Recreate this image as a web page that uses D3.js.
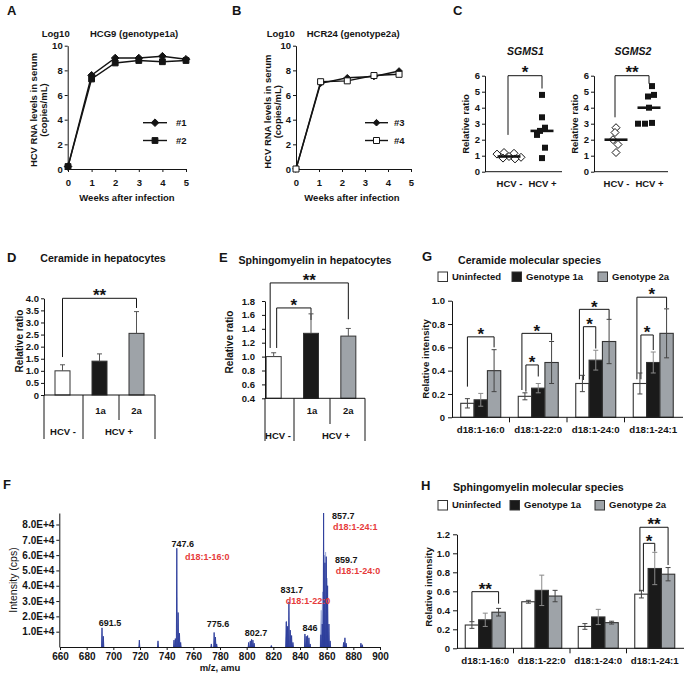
<!DOCTYPE html>
<html><head><meta charset="utf-8">
<script src="https://cdn.jsdelivr.net/npm/d3@7"></script>
<style>
body{margin:0;background:#fff;}
svg{display:block;}
</style></head><body>
<svg id="fig" width="685" height="675"></svg>
<script>
// ================= DATA =================
// A / B : HCV RNA time courses (log10 copies/mL)
const weekTicks = [0, 1, 2, 3, 4, 5];
const logTicks = [0, 2, 4, 6, 8, 10];
const weeksA = [0, 1, 2, 3, 4, 5];
const hcg9_1 = [0.2, 7.6, 9.0, 9.0, 9.15, 8.9];
const hcg9_2 = [0.2, 7.3, 8.6, 8.8, 8.7, 8.8];
const weeksB = [0, 1.07, 2.23, 3.39, 4.48];
const hcr24_3 = [0, 6.95, 7.4, 7.5, 7.95];
const hcr24_4 = [0, 7.08, 7.15, 7.58, 7.68];

// C : SGMS1 / SGMS2 relative ratio
const scatterCats = ["HCV -", "HCV +"];
const ratioTicks = [0, 1, 2, 3, 4, 5, 6];
const sgms1Neg = [1.2, 1.15, 1.1, 0.95, 0.9, 0.85, 0.8];
const sgms1Pos = [4.8, 3.4, 2.75, 2.55, 2.3, 1.5, 0.85];
const sgms2Neg = [2.75, 2.45, 2.0, 1.7, 1.2];
const sgms2Pos = [5.35, 4.8, 4.7, 4.0, 3.05, 3.0, 3.0];

// D / E : hepatocytes
const hepCats = ["HCV -", "1a", "2a"];
const ceramideHep = [1.0, 1.4, 2.55];
const ceramideHepErr = [0.25, 0.3, 0.9];
const cerHepTicks = [0, 0.5, 1, 1.5, 2, 2.5, 3, 3.5, 4];
const smHep = [1.0, 1.335, 1.295];
const smHepErr = [0.055, 0.28, 0.11];
const smHepTicks = [0.4, 0.6, 0.8, 1.0, 1.2, 1.4, 1.6, 1.8];

// G / H : molecular species
const species = ["d18:1-16:0", "d18:1-22:0", "d18:1-24:0", "d18:1-24:1"];
const groupNames = ["Uninfected", "Genotype 1a", "Genotype 2a"];
const cerUninf = [0.12, 0.18, 0.29, 0.29];
const cerG1a   = [0.15, 0.25, 0.49, 0.47];
const cerG2a   = [0.40, 0.47, 0.65, 0.72];
const cerUninfErr = [0.04, 0.03, 0.07, 0.09];
const cerG1aErr   = [0.055, 0.04, 0.085, 0.09];
const cerG2aErr   = [0.18, 0.18, 0.19, 0.21];
const cerSpTicks = [0, 0.2, 0.4, 0.6, 0.8, 1.0];
const smUninf = [0.245, 0.49, 0.23, 0.57];
const smG1a   = [0.30, 0.61, 0.33, 0.84];
const smG2a   = [0.38, 0.55, 0.27, 0.78];
const smUninfErr = [0.035, 0.015, 0.03, 0.04];
const smG1aErr   = [0.07, 0.16, 0.08, 0.17];
const smG2aErr   = [0.04, 0.06, 0.015, 0.07];
const smSpTicks = [0, 0.2, 0.4, 0.6, 0.8, 1.0, 1.2];

// F : mass spectrum
const mzTicks = [660, 680, 700, 720, 740, 760, 780, 800, 820, 840, 860, 880, 900];
const intTicks = [10000, 20000, 30000, 40000, 50000, 60000, 70000, 80000];
const peakMz  = [691.5, 692.5, 719.5, 733.5, 745.5, 746.5, 747.6, 748.6, 749.6, 750.5,
                 773.5, 775.6, 776.6, 777.5, 801.5, 802.7, 803.7, 804.7, 805.6, 818.5,
                 829.7, 830.7, 831.7, 832.7, 833.7, 834.7, 843.7, 844.7, 845.7, 846.7, 847.6,
                 855.7, 856.7, 857.7, 858.7, 859.7, 860.7, 861.7, 862.6, 872.7, 873.7, 874.6, 885.7, 886.7];
const peakInt = [12500, 7000, 4500, 4000, 4500, 5500, 64500, 22500, 9000, 3000,
                 2000, 9500, 6500, 2000, 3000, 4000, 5000, 4500, 2500, 1000,
                 16500, 13500, 29500, 11000, 7500, 3000, 8500, 7000, 7500, 6000, 2000,
                 8000, 15000, 87500, 55000, 59000, 40000, 15000, 4000, 3000, 6000, 2500, 2500, 1500];
const shoulderMz  = [829.9, 855.9, 856.9, 858.2, 859.2, 860.3];
const shoulderInt = [17000, 24000, 36000, 60000, 62000, 45000];

// ================= DRAWING =================
const svg = d3.select("#fig");
const FF = '"Liberation Sans", Arial, Helvetica, sans-serif';
const INK = "#141414";
const GRAY = "#9ea3a8";
const BLACKBAR = "#1a1a1a";
const BARSTROKE = "#333";
const STAR = 17;

function label(x, y, s, o = {}) {
  const t = svg.append("text")
    .attr("x", x).attr("y", y)
    .attr("font-family", FF)
    .attr("font-size", o.size || 9.5)
    .attr("font-weight", o.weight || "bold")
    .attr("font-style", o.style || "normal")
    .attr("text-anchor", o.anchor || "start")
    .attr("fill", o.fill || INK)
    .text(s);
  if (o.rot) t.attr("transform", `rotate(-90,${x},${y})`);
  return t;
}
function styleAxis(g, size) {
  g.attr("font-family", FF).attr("font-size", size || 9.5).attr("font-weight", "bold");
  g.selectAll("text").attr("fill", INK);
  g.selectAll("path,line").attr("stroke", INK).attr("stroke-width", 1);
  return g;
}
function seg(x1, y1, x2, y2, o = {}) {
  svg.append("line").attr("x1", x1).attr("y1", y1).attr("x2", x2).attr("y2", y2)
    .attr("stroke", o.stroke || INK).attr("stroke-width", o.w || 1);
}
function stars(x, cy, s, size = STAR) {
  label(x, cy + 0.57 * size, s, { size: size, anchor: "middle" });
}
function bracket(xl, yl, xr, yr, ytop, txt, starGap = 6.5) {
  svg.append("path").attr("d", `M${xl},${yl}V${ytop}H${xr}V${yr}`)
    .attr("fill", "none").attr("stroke", INK).attr("stroke-width", 1);
  stars((xl + xr) / 2, ytop - starGap, txt);
}
const diamond = r => `M0,${-r}L${r},0L0,${r}L${-r},0Z`;
const square = r => `M${-r},${-r}H${r}V${r}H${-r}Z`;
const intFmt = d3.format("d");

// ---------- panel letters ----------
[["A", 7, 14.5], ["B", 232, 14.5], ["C", 453, 14.5], ["D", 7, 262], ["E", 219, 262],
 ["G", 422, 261], ["F", 3, 489], ["H", 421, 490]]
  .forEach(([s, x, y]) => label(x, y, s, { size: 13 }));

// ---------- A / B ----------
function timePanel(c) {
  const x = d3.scaleLinear().domain([0, 5]).range([c.x0, c.x5]);
  const y = d3.scaleLinear().domain([0, 10]).range([169, 45.7]);
  styleAxis(svg.append("g").attr("transform", `translate(${c.ax},0)`)
    .call(d3.axisLeft(y).tickValues(logTicks).tickFormat(intFmt).tickSize(3).tickSizeOuter(0).tickPadding(2)));
  styleAxis(svg.append("g").attr("transform", `translate(0,${y(0)})`)
    .call(d3.axisBottom(x).tickValues(weekTicks).tickFormat(intFmt).tickSize(3).tickSizeOuter(0).tickPadding(7)));
  c.series.forEach(s => {
    const line = d3.line().x((d, i) => x(s.x[i])).y(d => y(d));
    svg.append("path").attr("d", line(s.v)).attr("fill", "none")
      .attr("stroke", INK).attr("stroke-width", 1.4);
  });
  c.series.forEach(s => {
    s.v.forEach((d, i) => svg.append("path")
      .attr("transform", `translate(${x(s.x[i])},${y(d)})`)
      .attr("d", s.shape).attr("fill", s.fill).attr("stroke", INK).attr("stroke-width", 1));
  });
  c.series.forEach((s, k) => {
    const ly = c.legY[k];
    seg(c.legX[0], ly, c.legX[1], ly, { w: 1.4 });
    svg.append("path").attr("transform", `translate(${(c.legX[0] + c.legX[1]) / 2},${ly})`)
      .attr("d", s.shape).attr("fill", s.fill).attr("stroke", INK).attr("stroke-width", 1);
    label(c.legTx, ly + 3.4, s.name);
  });
  label(c.logX, 36.7, "Log10");
  label(c.titleX, 36.7, c.title);
  label(c.yt[0], c.ytY, "HCV RNA levels in serum", { rot: true, anchor: "middle" });
  label(c.yt[1], c.ytY, "(copies/mL)", { rot: true, anchor: "middle" });
  label(c.xtX, 200.5, "Weeks after infection", { anchor: "middle" });
}
timePanel({
  x0: 68, x5: 186, ax: 67.7, legX: [143, 167], legY: [122.7, 140.5], legTx: 176,
  logX: 41.7, titleX: 90, title: "HCG9 (genotype1a)", yt: [36.6, 46.6], ytY: 110, xtX: 127,
  series: [
    { name: "#1", x: weeksA, v: hcg9_1, shape: diamond(3.8), fill: INK },
    { name: "#2", x: weeksA, v: hcg9_2, shape: square(2.9), fill: INK }
  ]
});
timePanel({
  x0: 296, x5: 411, ax: 296, legX: [365, 388], legY: [122.7, 140.5], legTx: 394,
  logX: 266.7, titleX: 306.7, title: "HCR24 (genotype2a)", yt: [271.5, 281.5], ytY: 111.7, xtX: 352,
  series: [
    { name: "#3", x: weeksB, v: hcr24_3, shape: diamond(3.3), fill: INK },
    { name: "#4", x: weeksB, v: hcr24_4, shape: square(3), fill: "#fff" }
  ]
});

// ---------- C ----------
function scatterPanel(c) {
  const y = d3.scaleLinear().domain([0, 6]).range([171.7, 75.7]);
  const x = d3.scalePoint().domain(scatterCats).range(c.cx);
  styleAxis(svg.append("g").attr("transform", `translate(${c.ax},0)`)
    .call(d3.axisLeft(y).tickValues(ratioTicks).tickFormat(intFmt).tickSize(3).tickSizeOuter(0).tickPadding(2)));
  const xa = styleAxis(svg.append("g").attr("transform", `translate(0,${y(0)})`)
    .call(d3.axisBottom(x).tickSize(0).tickPadding(9)));
  xa.select(".domain").attr("d", `M${c.ax},0H${c.axEnd}`);
  const b = c.br;
  bracket(x(scatterCats[0]) - 1, y(b.l), x(scatterCats[1]), y(b.r), y(b.top), b.txt, 7.5);
  c.neg.forEach((v, i) => svg.append("path")
    .attr("transform", `translate(${x(scatterCats[0]) + c.jNeg[i]},${y(v)})`)
    .attr("d", diamond(4)).attr("fill", "#fff").attr("stroke", INK).attr("stroke-width", 1));
  c.pos.forEach((v, i) => svg.append("path")
    .attr("transform", `translate(${x(scatterCats[1]) + c.jPos[i]},${y(v)})`)
    .attr("d", square(3)).attr("fill", INK));
  [[scatterCats[0], c.neg], [scatterCats[1], c.pos]].forEach(([cat, vals]) => {
    const m = d3.median(vals);
    seg(x(cat) - 11.5, y(m), x(cat) + 11.5, y(m), { w: 2.6 });
  });
  label((c.ax + c.axEnd) / 2 + 2, 55, c.title, { size: 10.5, style: "italic", anchor: "middle" });
  label(c.ytX, 124, "Relative ratio", { rot: true, anchor: "middle", size: 9.5 });
}
scatterPanel({
  ax: 485, axEnd: 562, cx: [509, 542], title: "SGMS1", ytX: 468.5,
  neg: sgms1Neg, pos: sgms1Pos,
  jNeg: [-5, 5, -12, 0, 12, -6, 6], jPos: [0, 0, 3, -2, -5, 3, 0],
  br: { l: 2.3, r: 5.2, top: 6.0, txt: "*" }
});
scatterPanel({
  ax: 594, axEnd: 668, cx: [616, 649], title: "SGMS2", ytX: 578,
  neg: sgms2Neg, pos: sgms2Pos,
  jNeg: [0, -1, -3, 2, 0], jPos: [3, 5, -1, 0, 3, -4, -11],
  br: { l: 3.4, r: 5.5, top: 6.0, txt: "**" }
});

// ---------- D / E ----------
function hepPanel(c) {
  const y = d3.scaleLinear().domain(c.domain).range([c.base, c.top]);
  const x = d3.scaleBand().domain(hepCats).range(c.band);
  const fills = ["#fff", BLACKBAR, GRAY];
  const bw = 15;
  const cx = k => x(k) + x.bandwidth() / 2;
  c.brackets.forEach(b => {
    const xl = cx(hepCats[0]) + b.dl, xr = cx(hepCats[b.to]);
    bracket(xl, y(b.l), xr, y(b.r), y(b.top), b.txt);
  });
  hepCats.forEach((k, i) => {
    svg.append("rect").attr("x", cx(k) - bw / 2).attr("y", y(c.vals[i]))
      .attr("width", bw).attr("height", y(c.domain[0]) - y(c.vals[i]))
      .attr("fill", fills[i]).attr("stroke", BARSTROKE).attr("stroke-width", 1);
    const et = y(c.vals[i] + c.errs[i]);
    seg(cx(k), y(c.vals[i]), cx(k), et, { stroke: "#555" });
    seg(cx(k) - 2.5, et, cx(k) + 2.5, et, { stroke: "#555" });
  });
  styleAxis(svg.append("g").attr("transform", `translate(${c.ax},0)`)
    .call(d3.axisLeft(y).tickValues(c.ticks).tickFormat(d => d === 0 ? "0" : d.toFixed(1))
      .tickSize(3).tickSizeOuter(0).tickPadding(c.pad)));
  seg(c.ax, c.base, c.table.right, c.base);
  c.table.full.forEach(xx => seg(xx, c.base, xx, c.table.bottom));
  seg(c.table.mid, c.base, c.table.mid, c.table.midBottom);
  label(cx("1a") + 1, c.labY1, "1a", { anchor: "middle" });
  label(cx("2a"), c.labY1, "2a", { anchor: "middle" });
  label(c.negX, c.labY2, "HCV -", { anchor: "middle" });
  label(c.posX, c.labY2, "HCV +", { anchor: "middle" });
  label(c.titleX, c.titleY, c.title, { size: 10.6, anchor: "middle" });
  label(c.ytX, c.ytY, "Relative ratio", { rot: true, anchor: "middle", size: 10 });
}
hepPanel({
  domain: [0, 4], base: 395, top: 298.3, band: [44, 155], ax: 44, pad: 2,
  ticks: cerHepTicks, vals: ceramideHep, errs: ceramideHepErr,
  table: { right: 155, full: [44, 83, 155], mid: 119, bottom: 439, midBottom: 420 },
  labY1: 413.5, labY2: 434.5, negX: 63, posX: 119,
  title: "Ceramide in hepatocytes", titleX: 103, titleY: 262, ytX: 22.5, ytY: 341,
  brackets: [{ to: 2, dl: 0, l: 1.57, r: 3.6, top: 4.0, txt: "**" }]
});
hepPanel({
  domain: [0.4, 1.8], base: 398.3, top: 301, band: [255, 367], ax: 265, pad: 7,
  ticks: smHepTicks, vals: smHep, errs: smHepErr,
  table: { right: 365, full: [265, 294, 365], mid: 330, bottom: 441, midBottom: 424 },
  labY1: 414, labY2: 438.5, negX: 278, posX: 336,
  title: "Sphingomyelin in hepatocytes", titleX: 315, titleY: 263.5, ytX: 232.5, ytY: 342,
  brackets: [
    { to: 1, dl: 3, l: 1.124, r: 1.527, top: 1.70, txt: "*" },
    { to: 2, dl: -3.5, l: 1.124, r: 1.537, top: 2.06, txt: "**" }
  ]
});

// ---------- G / H ----------
function speciesPanel(c) {
  const y = d3.scaleLinear().domain([0, c.max]).range([c.base, c.topY]);
  const x0 = d3.scaleBand().domain(species).range(c.xr);
  const x1 = d3.scaleBand().domain(groupNames).range([0, 40]);
  const off = (x0.bandwidth() - 40) / 2;
  const fills = ["#fff", BLACKBAR, GRAY];
  const barCx = (si, gi) => x0(species[si]) + off + x1(groupNames[gi]) + x1.bandwidth() / 2;
  c.brackets.forEach(b => {
    bracket(barCx(b.s, 0) + b.dl, y(b.l), barCx(b.s, b.to), y(b.r), y(b.top), b.txt);
  });
  c.series.forEach((vals, gi) => {
    vals.forEach((v, si) => {
      const xx = x0(species[si]) + off + x1(groupNames[gi]);
      svg.append("rect").attr("x", xx).attr("y", y(v))
        .attr("width", x1.bandwidth()).attr("height", y(0) - y(v))
        .attr("fill", fills[gi]).attr("stroke", BARSTROKE).attr("stroke-width", 1.1);
      const e = c.errs[gi][si], cxp = xx + x1.bandwidth() / 2;
      const col = gi === 1 ? "#8a8a8a" : "#444";
      seg(cxp, y(v - e), cxp, y(v + e), { stroke: col });
      seg(cxp - 2.5, y(v + e), cxp + 2.5, y(v + e), { stroke: col });
      seg(cxp - 2.5, y(v - e), cxp + 2.5, y(v - e), { stroke: col });
    });
  });
  styleAxis(svg.append("g").attr("transform", `translate(${c.xr[0]},0)`)
    .call(d3.axisLeft(y).tickValues(c.ticks).tickFormat(d => d === 0 ? "0" : d.toFixed(1))
      .tickSize(4).tickSizeOuter(0).tickPadding(3)));
  const xa = styleAxis(svg.append("g").attr("transform", `translate(0,${y(0)})`)
    .call(d3.axisBottom(x0).tickSize(0).tickPadding(c.xpad)), 9.7);
  xa.select(".domain").attr("d", `M${c.xr[0]},0H${c.xr[1] + 1}`);
  species.slice(1).forEach(s => seg(x0(s), y(0), x0(s), y(0) + 5));
  groupNames.forEach((g, i) => {
    svg.append("rect").attr("x", c.legBox[i]).attr("y", c.legY - 4.5).attr("width", 9.5).attr("height", 9.5)
      .attr("fill", fills[i]).attr("stroke", BARSTROKE).attr("stroke-width", 1);
    label(c.legBox[i] + 14, c.legY + 3.4, g);
  });
  label(c.titleX, c.titleY, c.title, { size: 10.6 });
  label(c.ytX, c.ytY, "Relative intensity", { rot: true, anchor: "middle", size: 9.7 });
}
speciesPanel({
  max: 1.0, base: 417.3, topY: 300.7, xr: [452, 682], xpad: 8.5, ticks: cerSpTicks,
  series: [cerUninf, cerG1a, cerG2a], errs: [cerUninfErr, cerG1aErr, cerG2aErr],
  legBox: [438, 512, 598], legY: 276.5, title: "Ceramide molecular species", titleX: 458, titleY: 264,
  ytX: 428.5, ytY: 359,
  brackets: [
    { s: 0, to: 2, dl: 0, l: 0.263, r: 0.60, top: 0.69, txt: "*" },
    { s: 1, to: 1, dl: 1, l: 0.22, r: 0.35, top: 0.449, txt: "*" },
    { s: 1, to: 2, dl: -3, l: 0.234, r: 0.657, top: 0.72, txt: "*" },
    { s: 2, to: 1, dl: 1, l: 0.32, r: 0.59, top: 0.777, txt: "*" },
    { s: 2, to: 2, dl: -3, l: 0.326, r: 0.84, top: 0.926, txt: "*" },
    { s: 3, to: 1, dl: 1, l: 0.326, r: 0.577, top: 0.706, txt: "*" },
    { s: 3, to: 2, dl: -3, l: 0.326, r: 0.934, top: 1.03, txt: "*" }
  ]
});
speciesPanel({
  max: 1.2, base: 648.3, topY: 534.3, xr: [457, 683], xpad: 8.5, ticks: smSpTicks,
  series: [smUninf, smG1a, smG2a], errs: [smUninfErr, smG1aErr, smG2aErr],
  legBox: [438, 510, 595], legY: 505, title: "Sphingomyelin molecular species", titleX: 453, titleY: 490.5,
  ytX: 431.5, ytY: 587,
  brackets: [
    { s: 0, to: 2, dl: 0, l: 0.28, r: 0.47, top: 0.596, txt: "**" },
    { s: 3, to: 1, dl: 2, l: 0.596, r: 1.018, top: 1.105, txt: "*" },
    { s: 3, to: 2, dl: -1.5, l: 0.596, r: 0.877, top: 1.274, txt: "**" }
  ]
});

// ---------- F ----------
(function spectrum() {
  const x = d3.scaleLinear().domain([660, 900]).range([60, 380]);
  const y = d3.scaleLinear().domain([0, 87500]).range([647, 513]);
  shoulderMz.forEach((m, i) => {
    svg.append("path")
      .attr("d", `M${x(m - 0.8)},${y(0)}L${x(m)},${y(shoulderInt[i])}L${x(m + 0.8)},${y(0)}Z`)
      .attr("fill", "#8f9dd3").attr("stroke", "#8f9dd3").attr("stroke-width", 0.6);
  });
  peakMz.forEach((m, i) => {
    svg.append("path")
      .attr("d", `M${x(m - 0.35)},${y(0)}L${x(m)},${y(peakInt[i])}L${x(m + 0.35)},${y(0)}Z`)
      .attr("fill", "#2b3c9b").attr("stroke", "#2b3c9b").attr("stroke-width", 0.9);
  });
  styleAxis(svg.append("g").attr("transform", `translate(59.3,0)`)
    .call(d3.axisLeft(y).tickValues(intTicks).tickFormat(d => (d / 10000).toFixed(1) + "E+4")
      .tickSize(3).tickSizeOuter(0).tickPadding(2)), 10);
  styleAxis(svg.append("g").attr("transform", `translate(0,${y(0)})`)
    .call(d3.axisBottom(x).tickValues(mzTicks).tickFormat(intFmt).tickSize(3).tickSizeOuter(0).tickPadding(3)), 10);
  label(16.5, 580, "Intensity (cps)", { rot: true, anchor: "middle", size: 10.5, weight: "normal" });
  label(220, 671, "m/z, amu", { anchor: "middle", size: 9.5 });
  const RED = "#e63a3a";
  [["691.5", 110, 626, "middle"], ["747.6", 182.7, 546.5, "middle"], ["775.6", 218, 626.5, "middle"],
   ["802.7", 256, 635.5, "middle"], ["831.7", 291.7, 593, "middle"], ["846", 310, 630.5, "middle"],
   ["857.7", 332, 519, "start"], ["859.7", 335, 562.5, "start"]]
    .forEach(([s, xx, yy, a]) => label(xx, yy, s, { anchor: a, size: 9 }));
  [["d18:1-16:0", 185, 559.5], ["d18:1-22:0", 285.7, 603.5], ["d18:1-24:1", 333, 530], ["d18:1-24:0", 335.7, 574]]
    .forEach(([s, xx, yy]) => label(xx, yy, s, { fill: RED, size: 9 }));
})();
</script>
</body></html>
